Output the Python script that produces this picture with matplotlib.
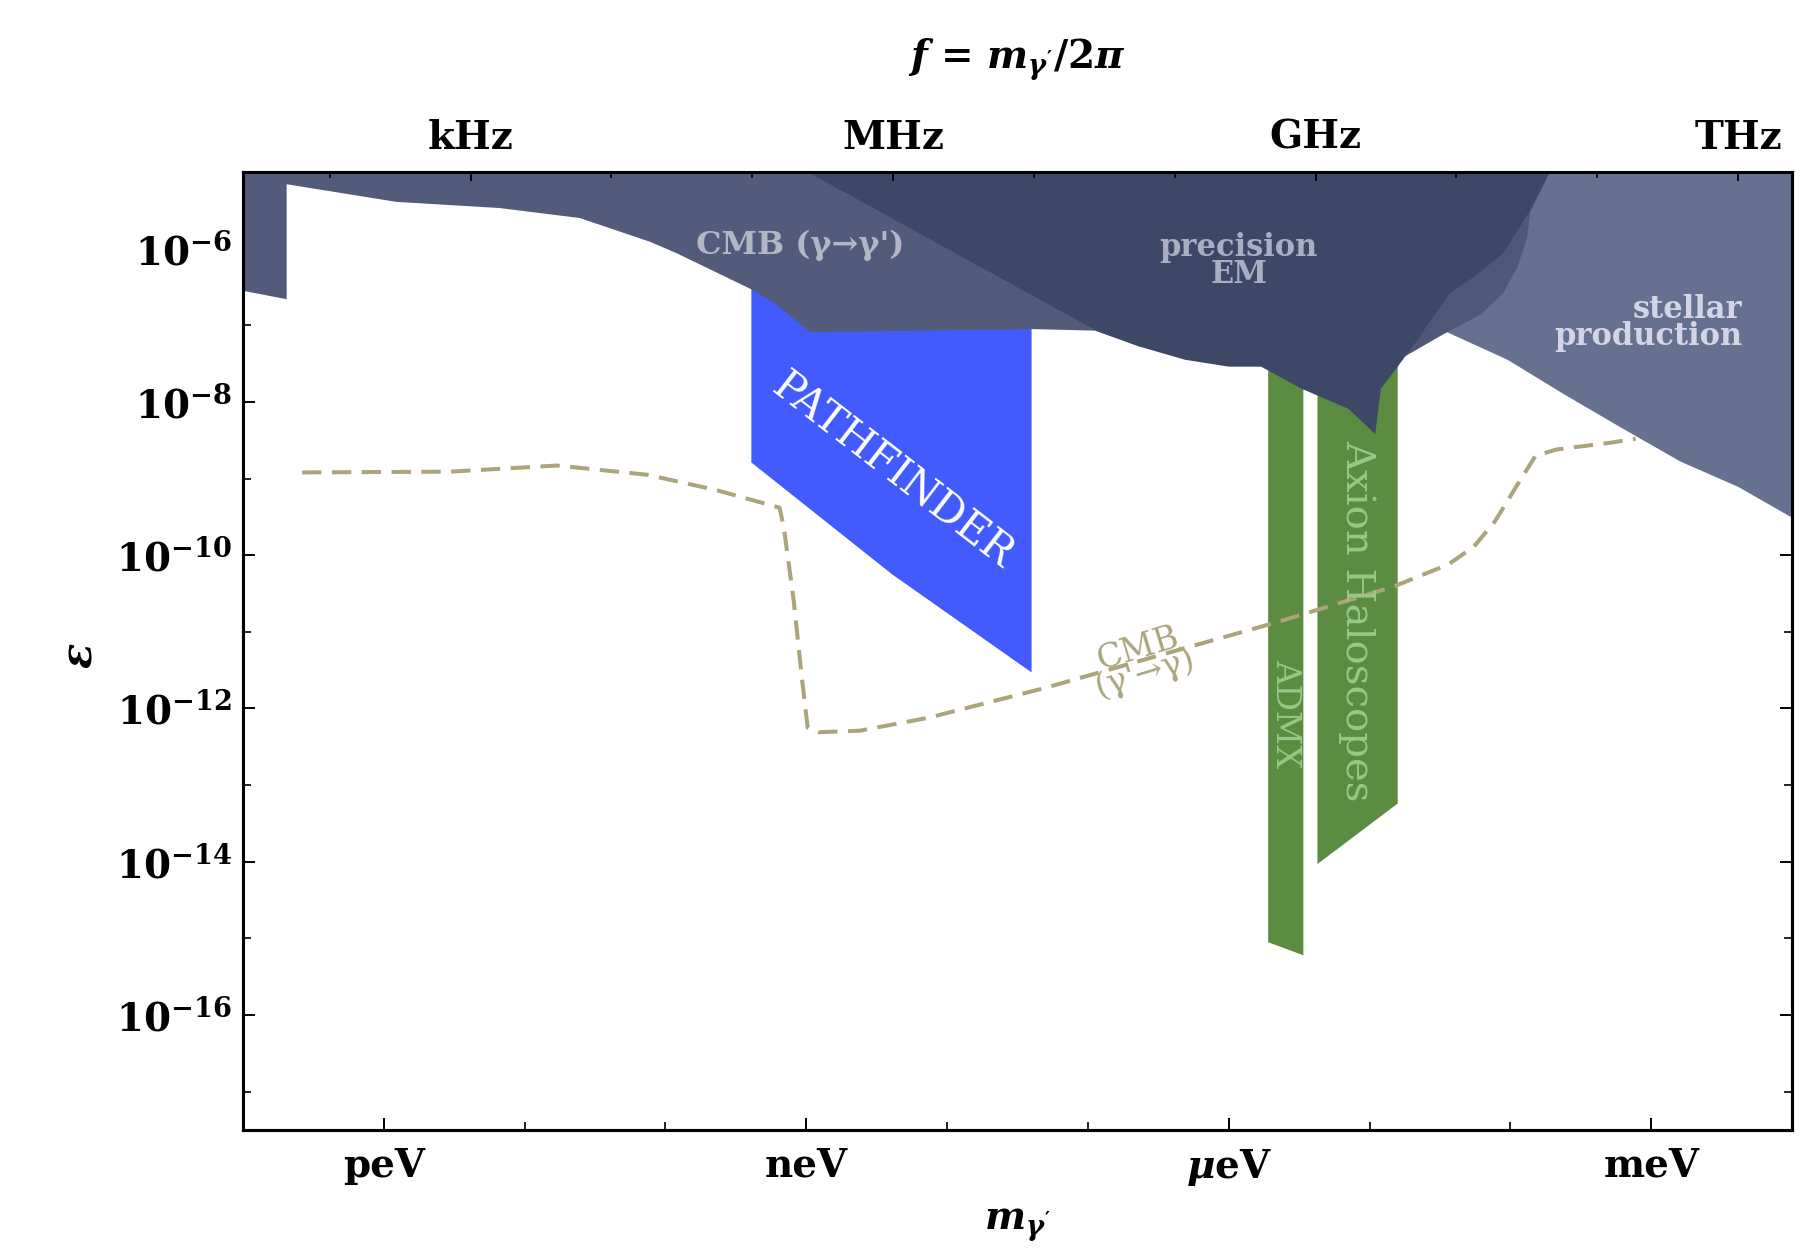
import numpy as np
import matplotlib
matplotlib.use("Agg")
import matplotlib.pyplot as plt
from matplotlib.ticker import FixedLocator, FixedFormatter, NullFormatter

# ---------------- data (log10 of mass [eV], log10 of epsilon) ----------------
x_lim_exp = [-13, -2]
y_lim_exp = [-17.5, -5]

mass_major_exp = [-12, -9, -6, -3]
mass_major_labels = ["peV", "neV", r"$\mu$eV", "meV"]
mass_minor_exp = [-11, -10, -8, -7, -5, -4]

eps_major_exp = [-6, -8, -10, -12, -14, -16]
eps_major_labels = [r"$\mathbf{10^{%d}}$" % e for e in eps_major_exp]
eps_minor_exp = [-7, -9, -11, -13, -15, -17]

freq_major_exp = [3, 6, 9, 12]
freq_major_labels = ["kHz", "MHz", "GHz", "THz"]
freq_minor_exp = [2, 4, 5, 7, 8, 10, 11]
hz_per_ev = 2.417989e14

# CMB (gamma -> gamma') excluded region
cmb_dm_logm = [-13.00, -12.69, -12.69, -11.91, -11.18, -10.61, -10.11, -9.92,
               -9.38, -9.23, -8.97, -7.39, -6.95, -6.63, -6.63, -13.00]
cmb_dm_loge = [-6.55, -6.66, -5.16, -5.39, -5.47, -5.60, -5.91, -6.06,
               -6.54, -6.71, -7.09, -7.05, -7.07, -7.28, -5.00, -5.00]

# precision EM region
pem_logm = [-8.99, -6.94, -6.63, -6.31, -6.00, -5.77, -5.48, -5.15, -4.96,
            -4.92, -4.80, -4.66, -4.43, -4.26, -4.05, -3.87, -3.72]
pem_loge = [-5.00, -7.07, -7.28, -7.45, -7.54, -7.54, -7.83, -8.09, -8.42,
            -7.83, -7.54, -7.19, -6.58, -6.37, -6.06, -5.53, -5.00]

# intermediate band between precision EM and stellar
mid_logm = [-4.79, -4.45, -4.21, -4.05, -3.95, -3.88, -3.86, -3.79, -3.72, -4.79]
mid_loge = [-7.45, -7.09, -6.86, -6.58, -6.24, -5.85, -5.53, -5.27, -5.00, -5.00]

# stellar production
st_logm = [-4.65, -4.45, -4.02, -3.61, -3.20, -2.79, -2.38, -2.00, -2.00, -4.65]
st_loge = [-7.26, -7.09, -7.45, -7.91, -8.35, -8.78, -9.11, -9.51, -5.00, -5.00]

# PATHFINDER projection
pf_logm = [-9.39, -7.40, -7.40, -8.39, -9.39]
pf_loge = [-6.41, -6.41, -11.53, -10.25, -8.79]

# ADMX
admx_logm = [-5.72, -5.47, -5.47, -5.72]
admx_loge = [-7.30, -7.30, -15.22, -15.05]

# Axion haloscopes
halo_logm = [-5.37, -4.80, -4.80, -5.37]
halo_loge = [-7.30, -7.30, -13.24, -14.03]

# CMB (gamma' -> gamma) dashed curve
line_logm = [-12.58, -11.53, -10.77, -10.13, -9.64, -9.19, -9.16, -9.09, -9.03,
             -8.99, -8.91, -8.62, -8.13, -7.30, -6.48, -5.65, -4.83, -4.44,
             -4.26, -4.11, -3.95, -3.82, -3.67, -3.28, -3.11]
line_loge = [-8.92, -8.91, -8.83, -8.95, -9.15, -9.38, -9.63, -10.58, -11.62,
             -12.25, -12.31, -12.29, -12.12, -11.73, -11.30, -10.87, -10.41, -10.12,
             -9.89, -9.56, -9.08, -8.70, -8.62, -8.53, -8.48]

# ---------------- style ----------------
plt.rcParams.update({
    "font.family": "DejaVu Serif",
    "font.weight": "bold",
    "mathtext.fontset": "custom",
    "mathtext.rm": "DejaVu Serif:bold",
    "mathtext.bf": "DejaVu Serif:bold",
    "mathtext.it": "DejaVu Serif:italic:bold",
    "axes.linewidth": 2.2,
})

c_cmb = "#525b79"
c_pem = "#3d4866"
c_mid = "#4f5878"
c_st = "#667190"
c_pf = "#425bff"
c_green = "#5b8c42"
c_green_txt = "#9cc688"
c_dash = "#aba47c"

fig = plt.figure(figsize=(18.2, 12.48), dpi=100)
ax = fig.add_axes([243 / 1820, 118 / 1248, 1549 / 1820, 958 / 1248])
ax.set_xscale("log")
ax.set_yscale("log")
ax.set_xlim(10.0 ** x_lim_exp[0], 10.0 ** x_lim_exp[1])
ax.set_ylim(10.0 ** y_lim_exp[0], 10.0 ** y_lim_exp[1])


def P(a):
    return 10.0 ** np.asarray(a, dtype=float)


ax.fill(P(pf_logm), P(pf_loge), color=c_pf, lw=0, zorder=2)
ax.fill(P(admx_logm), P(admx_loge), color=c_green, lw=0, zorder=2)
ax.fill(P(halo_logm), P(halo_loge), color=c_green, lw=0, zorder=2)
ax.fill(P(cmb_dm_logm), P(cmb_dm_loge), color=c_cmb, lw=0, zorder=3)
ax.fill(P(st_logm), P(st_loge), color=c_st, lw=0, zorder=3)
ax.fill(P(mid_logm), P(mid_loge), color=c_mid, lw=0, zorder=4)
ax.fill(P(pem_logm), P(pem_loge), color=c_pem, lw=0, zorder=5)

ax.plot(P(line_logm), P(line_loge), color=c_dash, lw=2.9,
        linestyle=(0, (4.8, 2.6)), zorder=6)

# region labels
ax.text(10 ** -9.04, 10 ** -5.96, "CMB (γ→γ')", color="#b3b7c5", fontsize=23,
        ha="center", va="center", zorder=10)
ax.text(10 ** -5.93, 10 ** -6.16, "precision\nEM", color="#a9aec0", fontsize=22,
        ha="center", va="center", linespacing=0.8, zorder=10)
ax.text(10 ** -2.35, 10 ** -6.97, "stellar\nproduction", color="#d2d6e4", fontsize=22,
        ha="right", va="center", multialignment="right", linespacing=0.8, zorder=10)
ax.text(10 ** -8.38, 10 ** -8.89, "PATHFINDER", color="white", fontsize=30,
        fontweight="normal", ha="center", va="center", rotation=-37.6,
        rotation_mode="anchor", zorder=10)
ax.text(10 ** -6.62, 10 ** -11.39, "CMB\n(γ'→γ)", color=c_dash, fontsize=24,
        fontweight="normal", ha="center", va="center", rotation=17,
        rotation_mode="anchor", linespacing=0.72, zorder=10)
ax.text(10 ** -5.60, 10 ** -12.07, "ADMX", color=c_green_txt, fontsize=24,
        fontweight="normal", ha="center", va="center", rotation=-90, zorder=10)
ax.text(10 ** -5.09, 10 ** -10.85, "Axion Haloscopes", color=c_green_txt, fontsize=29,
        fontweight="normal", ha="center", va="center", rotation=-90, zorder=10)

# bottom / left ticks
ax.xaxis.set_major_locator(FixedLocator(P(mass_major_exp)))
ax.xaxis.set_major_formatter(FixedFormatter(mass_major_labels))
ax.xaxis.set_minor_locator(FixedLocator(P(mass_minor_exp)))
ax.xaxis.set_minor_formatter(NullFormatter())
ax.yaxis.set_major_locator(FixedLocator(P(eps_major_exp)))
ax.yaxis.set_major_formatter(FixedFormatter(eps_major_labels))
ax.yaxis.set_minor_locator(FixedLocator(P(eps_minor_exp)))
ax.yaxis.set_minor_formatter(NullFormatter())
ax.tick_params(axis="both", which="major", direction="in", length=8.6, width=1.4,
               labelsize=28, top=False, right=True)
ax.tick_params(axis="both", which="minor", direction="in", length=5.8, width=1.2,
               top=False, right=True)
ax.tick_params(axis="x", which="major", pad=12)
ax.tick_params(axis="y", which="major", pad=8)

# top frequency axis
ax2 = ax.twiny()
ax2.set_xscale("log")
ax2.set_xlim(10.0 ** x_lim_exp[0] * hz_per_ev, 10.0 ** x_lim_exp[1] * hz_per_ev)
ax2.xaxis.set_major_locator(FixedLocator(P(freq_major_exp)))
ax2.xaxis.set_major_formatter(FixedFormatter(freq_major_labels))
ax2.xaxis.set_minor_locator(FixedLocator(P(freq_minor_exp)))
ax2.xaxis.set_minor_formatter(NullFormatter())
ax2.tick_params(axis="x", which="major", direction="in", length=6.5, width=1.4,
                labelsize=28, pad=11)
ax2.tick_params(axis="x", which="minor", direction="in", length=4.3, width=1.2)
for sp in ax2.spines.values():
    sp.set_linewidth(2.2)

# axis titles
fig.text(1017 / 1820, 1 - 60 / 1248, r"$f$ = $m_{\gamma'}/2\pi$", fontsize=28,
         ha="center", va="center")
fig.text(1017 / 1820, 4 / 1248, r"$m_{\gamma'}$", fontsize=28,
         ha="center", va="bottom")
fig.text(79 / 1820, 1 - 656 / 1248, r"$\varepsilon$", fontsize=30,
         ha="center", va="center", rotation=90)

fig.savefig("out.png", dpi=100)
